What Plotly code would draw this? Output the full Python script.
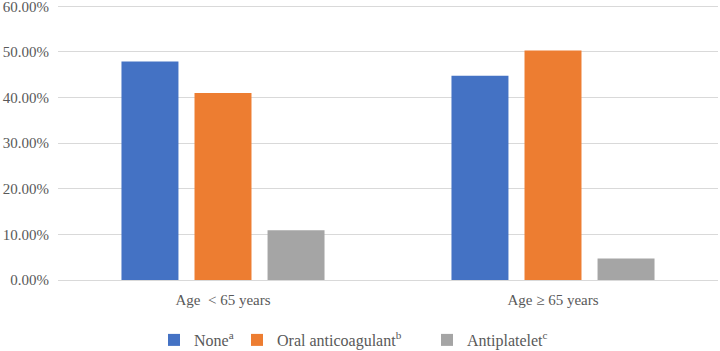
import plotly.graph_objects as go

categories = ["Age\u00a0\u00a0< 65 years", "Age ≥ 65 years"]
series_names = ["None<sup>a</sup>", "Oral anticoagulant<sup>b</sup>", "Antiplatelet<sup>c</sup>"]
none_vals = [0.479, 0.448]
oral_vals = [0.410, 0.503]
anti_vals = [0.109, 0.047]
tick_vals = [0, 0.1, 0.2, 0.3, 0.4, 0.5, 0.6]
tick_text = ["0.00%", "10.00%", "20.00%", "30.00%", "40.00%", "50.00%", "60.00%"]

colors = ["#4472C4", "#ED7D31", "#A5A5A5"]
font = dict(family="Liberation Serif, Times New Roman, serif", size=15, color="#595959")
leg_font = dict(family="Liberation Serif, Times New Roman, serif", size=16, color="#595959")

fig = go.Figure()
legends = ["legend", "legend2", "legend3"]
for name, vals, col, lg in zip(series_names, [none_vals, oral_vals, anti_vals], colors, legends):
    fig.add_trace(go.Bar(x=categories, y=vals, name=name, marker_color=col,
                         marker_line_width=0, legend=lg, showlegend=True))

W, H = 720, 351
text_x = [197, 280, 470]
leg_y = 340
common_leg = dict(orientation="h", xref="container", yref="container",
                  xanchor="left", yanchor="middle", font=leg_font, visible=True,
                  bgcolor="rgba(0,0,0,0)", borderwidth=0)
fig.update_layout(
    width=W, height=H,
    showlegend=True,
    margin=dict(l=58, r=2, t=5, b=71, autoexpand=False),
    plot_bgcolor="white", paper_bgcolor="white",
    font=font,
    barmode="group", bargap=0.336, bargroupgap=0.22,
    legend=dict(x=(text_x[0] - 43) / W, y=1 - leg_y / H, **common_leg),
    legend2=dict(x=(text_x[1] - 43) / W, y=1 - leg_y / H, **common_leg),
    legend3=dict(x=(text_x[2] - 43) / W, y=1 - leg_y / H, **common_leg),
    yaxis=dict(range=[0, 0.603], tickvals=tick_vals, ticktext=tick_text,
               showgrid=True, gridcolor="#D9D9D9", gridwidth=1, tickfont=font,
               zeroline=False, showline=False, ticks="", ticklabelstandoff=8,
               ticklabeloverflow="allow", automargin=False),
    xaxis=dict(showline=True, linecolor="#D9D9D9", linewidth=1, ticks="",
               ticklabelstandoff=6, tickfont=font, automargin=False),
)
fig.write_html("out.html", config={"displayModeBar": False},
               post_script="document.body.style.margin='0px';document.body.style.overflow='hidden';")
